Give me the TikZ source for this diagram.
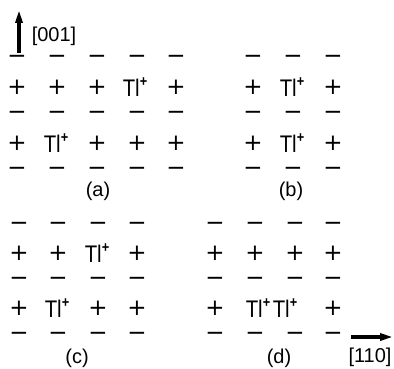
\documentclass[tikz,border=0pt]{standalone}
\usepackage{fontspec}
\setmainfont{Liberation Sans}
\newfontfamily\signfont{DejaVu Sans}
\usetikzlibrary{arrows.meta}
\tikzset{
  minus/.style={inner sep=0pt, font=\signfont\fontsize{23}{25}\selectfont},
  plus/.style={inner sep=0pt, font=\signfont\fontsize{23}{25}\selectfont},
  ion/.style={inner sep=0pt, font=\fontsize{24}{26}\selectfont},
  lab/.style={inner sep=0pt, font=\fontsize{20}{22}\selectfont},
  axis/.style={line width=3.2pt, -{Triangle[length=13pt,width=7pt]}}
}
\newcommand{\tlion}{\scalebox{0.85}[1]{Tl\raisebox{0.4em}{\fontsize{15}{15}\selectfont\bfseries +}}}
\begin{document}
\begin{tikzpicture}[x=1pt,y=-1pt]
\useasboundingbox (0,0) rectangle (394,369);
% (a)
\foreach \x in {17,57,97,137,176}
  \foreach \y in {59,115,171}
    \node[minus] (am-\x-\y) at (\x,\y) {−};
\foreach \x/\y in {17/87,57/87,97/87,176/87,17/143,97/143,137/143,176/143}
  \node[plus] (ap-\x-\y) at (\x,\y) {+};
\node[ion] (atl1) at (135,87) {\tlion};
\node[ion] (atl2) at (56,143) {\tlion};
\node[lab] (alab) at (98,191) {(a)};
% (b)
\foreach \x in {253,293,333}
  \foreach \y in {59,115,171}
    \node[minus] (bm-\x-\y) at (\x,\y) {−};
\foreach \x/\y in {253/87,333/87,253/143,333/143}
  \node[plus] (bp-\x-\y) at (\x,\y) {+};
\node[ion] (btl1) at (292,87) {\tlion};
\node[ion] (btl2) at (292,143) {\tlion};
\node[lab] (blab) at (291,191) {(b)};
% (c)
\foreach \x in {19,58,98,137}
  \foreach \y in {226,281,336}
    \node[minus] (cm-\x-\y) at (\x,\y) {−};
\foreach \x/\y in {19/253,58/253,137/253,19/308,98/308,137/308}
  \node[plus] (cp-\x-\y) at (\x,\y) {+};
\node[ion] (ctl1) at (97,253) {\tlion};
\node[ion] (ctl2) at (57,308) {\tlion};
\node[lab] (clab) at (77,358) {(c)};
% (d)
\foreach \x in {215,255,295,333}
  \foreach \y in {226,281,336}
    \node[minus] (dm-\x-\y) at (\x,\y) {−};
\foreach \x/\y in {215/253,255/253,295/253,333/253,215/308,333/308}
  \node[plus] (dp-\x-\y) at (\x,\y) {+};
\node[ion] (dtl1) at (258,308) {\tlion};
\node[ion] (dtl2) at (285,308) {\tlion};
\node[lab] (dlab) at (279,358) {(d)};
% axes
\coordinate (zfoot) at (19,53);
\coordinate (ztip) at (19,10);
\draw[axis] (zfoot) -- (ztip);
\node[lab] (zlab) at (54,36) {[001]};
\coordinate (xfoot) at (351,337);
\coordinate (xtip) at (393,337);
\draw[axis] (xfoot) -- (xtip);
\node[lab] (xlab) at (370,357) {[110]};
\end{tikzpicture}
\end{document}
